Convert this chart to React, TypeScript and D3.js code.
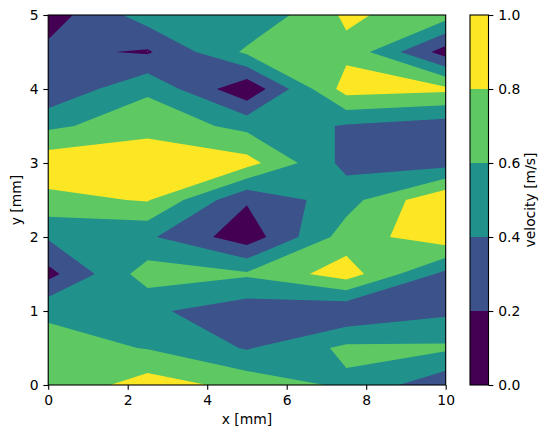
import React, { useEffect, useRef } from 'react';
import * as d3 from 'd3';

// measurement grid
const xGrid = [0, 2.5, 5, 7.5, 10];
const yGrid = [0, 0.5, 1, 1.5, 2, 2.5, 3, 3.5, 4, 4.5, 5];

// velocity [m/s], one row per y value (bottom row first), one column per x value
const velocity = [
  [0.634, 0.9, 0.733, 0.563, 0.255],
  [0.685, 0.59, 0.383, 0.643, 0.634],
  [0.56, 0.437, 0.283, 0.22, 0.356],
  [0.135, 0.7, 0.628, 0.9, 0.34],
  [0.423, 0.433, 0.08, 0.698, 0.93],
  [0.745, 0.815, 0.22, 0.52, 0.987],
  [0.929, 0.965, 0.877, 0.338, 0.32],
  [0.559, 0.715, 0.545, 0.381, 0.29],
  [0.228, 0.568, 0.04, 0.887, 0.845],
  [0.251, 0.176, 0.637, 0.752, 0.107],
  [0.101, 0.5, 0.422, 0.835, 0.687],
];

const levels = [0, 0.2, 0.4, 0.6, 0.8, 1.0];
const xTicks = [0, 2, 4, 6, 8, 10];
const yTicks = [0, 1, 2, 3, 4, 5];

const W = 549;
const H = 438;
const FS = 13.9;
const TICK = 4.86;

// region where value >= t, cell by cell (straight segments between edge crossings,
// saddles decided by the cell's mean value)
function regionAbove(t: number): number[][][] {
  const polys: number[][][] = [];
  for (let j = 0; j < yGrid.length - 1; j++) {
    for (let i = 0; i < xGrid.length - 1; i++) {
      const pts = [
        [xGrid[i], yGrid[j], velocity[j][i]],
        [xGrid[i + 1], yGrid[j], velocity[j][i + 1]],
        [xGrid[i + 1], yGrid[j + 1], velocity[j + 1][i + 1]],
        [xGrid[i], yGrid[j + 1], velocity[j + 1][i]],
      ];
      const up = pts.map(p => p[2] >= t);
      const n = up.filter(Boolean).length;
      if (n === 0) continue;
      const cross = (k: number) => {
        const p = pts[k], q = pts[(k + 1) % 4];
        const f = (t - p[2]) / (q[2] - p[2]);
        return [p[0] + f * (q[0] - p[0]), p[1] + f * (q[1] - p[1])];
      };
      const saddle = n === 2 && up[0] === up[2];
      const mid = d3.mean(pts, p => p[2]) as number;
      if (saddle && mid < t) {
        for (let k = 0; k < 4; k++) {
          if (up[k]) polys.push([cross((k + 3) % 4), [pts[k][0], pts[k][1]], cross(k)]);
        }
        continue;
      }
      const ring: number[][] = [];
      for (let k = 0; k < 4; k++) {
        if (up[k]) ring.push([pts[k][0], pts[k][1]]);
        if (up[k] !== up[(k + 1) % 4]) ring.push(cross(k));
      }
      polys.push(ring);
    }
  }
  return polys;
}

const App = () => {
  const ref = useRef<HTMLDivElement>(null);

  useEffect(() => {
    const el = ref.current;
    if (!el) return;
    el.innerHTML = '';

    const plot = { left: 48.2, right: 445.7, top: 15, bottom: 385 };
    const cb = { left: 470, right: 488.5 };

    const x = d3.scaleLinear().domain([0, 10]).range([plot.left, plot.right]);
    const y = d3.scaleLinear().domain([0, 5]).range([plot.bottom, plot.top]);
    const cbY = d3.scaleLinear().domain([0, 1]).range([plot.bottom, plot.top]);

    const bandColors = levels.slice(0, -1).map((_, k, arr) => d3.interpolateViridis(k / (arr.length - 1)));

    const svg = d3.select(el)
      .append('svg')
      .attr('width', W)
      .attr('height', H)
      .style('position', 'absolute')
      .style('left', '0px')
      .style('top', '0px')
      .attr('font-family', 'DejaVu Sans')
      .attr('font-size', FS);

    svg.append('rect').attr('width', W).attr('height', H).attr('fill', 'white');

    // filled contours
    const line = d3.line<number[]>().x(d => x(d[0])).y(d => y(d[1]));
    svg.append('g')
      .selectAll('path')
      .data(levels.slice(0, -1))
      .join('path')
      .attr('d', t => regionAbove(t).map(p => line(p) + 'Z').join(''))
      .attr('fill', (_, k) => bandColors[k]);

    const styleAxis = (g: any) => {
      g.select('.domain').remove();
      g.attr('font-family', 'DejaVu Sans').attr('font-size', FS);
      g.selectAll('line').attr('stroke-width', 1.1);
    };

    svg.append('g')
      .attr('transform', `translate(0,${plot.bottom})`)
      .call(d3.axisBottom(x).tickValues(xTicks).tickFormat(d3.format('d')).tickSize(TICK).tickPadding(TICK))
      .call(styleAxis);

    svg.append('g')
      .attr('transform', `translate(${plot.left},0)`)
      .call(d3.axisLeft(y).tickValues(yTicks).tickFormat(d3.format('d')).tickSize(TICK).tickPadding(TICK))
      .call(styleAxis);

    svg.append('rect')
      .attr('x', plot.left).attr('y', plot.top)
      .attr('width', plot.right - plot.left).attr('height', plot.bottom - plot.top)
      .attr('fill', 'none').attr('stroke', 'black').attr('stroke-width', 1.1);

    svg.append('text')
      .attr('x', (plot.left + plot.right) / 2).attr('y', 423.5)
      .attr('text-anchor', 'middle')
      .text('x [mm]');

    svg.append('text')
      .attr('transform', `translate(20.7,${(plot.top + plot.bottom) / 2}) rotate(-90)`)
      .attr('text-anchor', 'middle')
      .text('y [mm]');

    // colorbar
    svg.append('g')
      .selectAll('rect')
      .data(levels.slice(0, -1))
      .join('rect')
      .attr('x', cb.left)
      .attr('width', cb.right - cb.left)
      .attr('y', (t, k) => cbY(levels[k + 1]))
      .attr('height', (t, k) => cbY(t) - cbY(levels[k + 1]))
      .attr('fill', (_, k) => bandColors[k]);

    svg.append('rect')
      .attr('x', cb.left).attr('y', plot.top)
      .attr('width', cb.right - cb.left).attr('height', plot.bottom - plot.top)
      .attr('fill', 'none').attr('stroke', 'black').attr('stroke-width', 1.1);

    svg.append('g')
      .attr('transform', `translate(${cb.right},0)`)
      .call(d3.axisRight(cbY).tickValues(levels).tickFormat(d3.format('.1f')).tickSize(TICK).tickPadding(TICK))
      .call(styleAxis);

    svg.append('text')
      .attr('transform', `translate(535,${(plot.top + plot.bottom) / 2}) rotate(-90)`)
      .attr('text-anchor', 'middle')
      .text('velocity [m/s]');

    return () => {
      el.innerHTML = '';
    };
  }, []);

  return <div ref={ref}></div>;
};

export default App;
